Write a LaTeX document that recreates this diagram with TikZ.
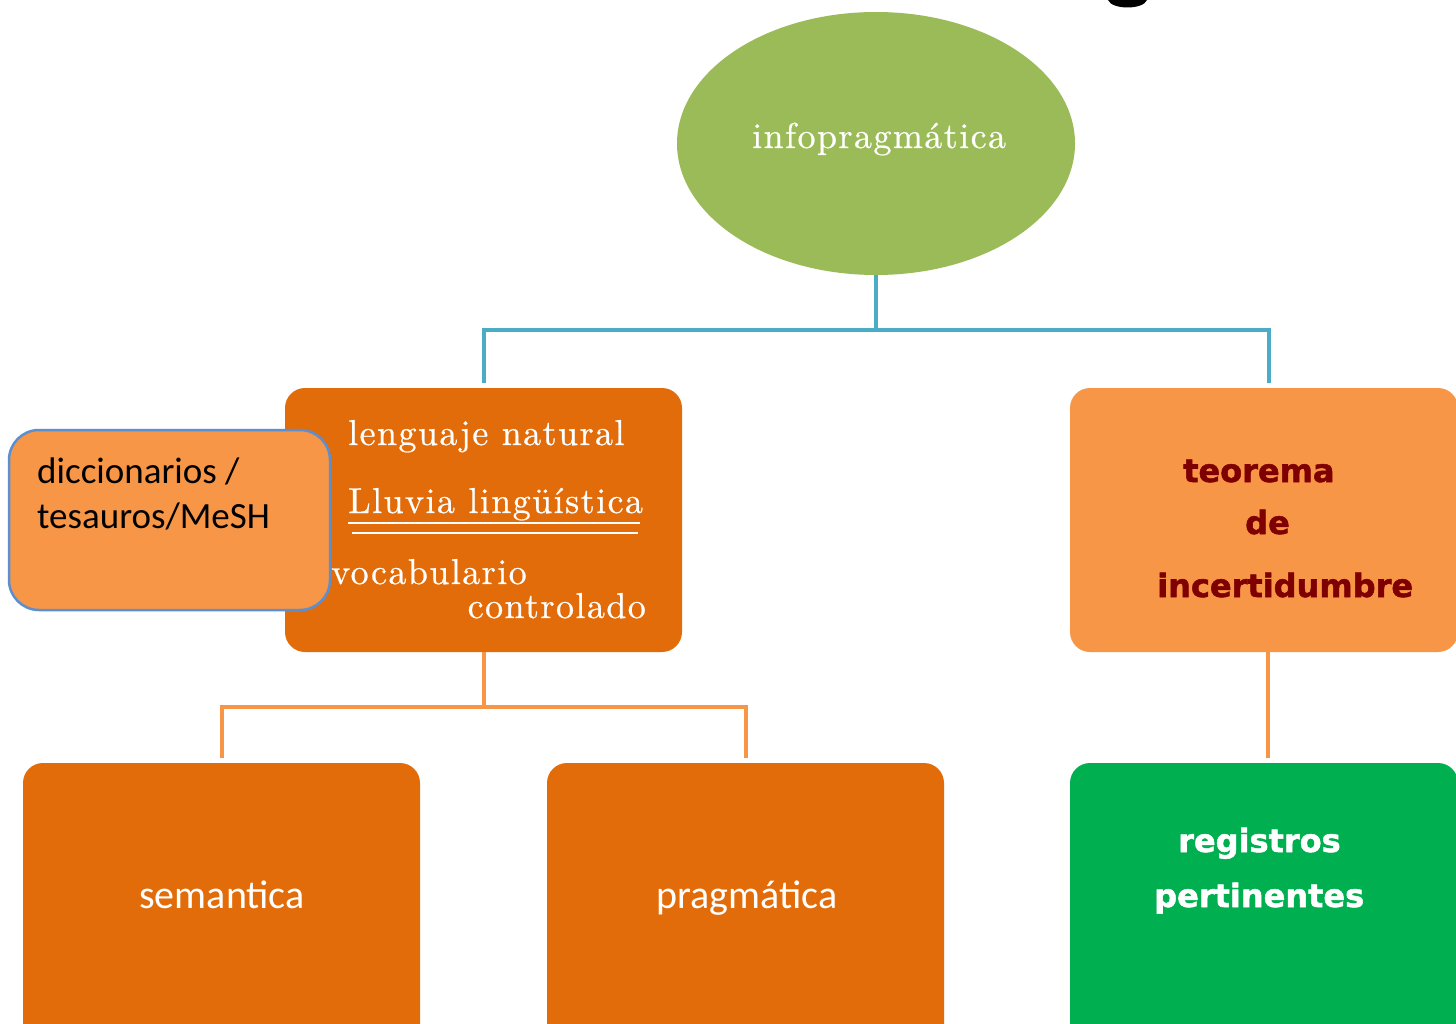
\documentclass[tikz,border=0pt]{standalone}
\usepackage{fontspec}
\usetikzlibrary{shapes.geometric}
\newfontfamily\lmserif{lmroman10-regular}[Extension=.otf, LetterSpace=4, FakeBold=0.6]
\newfontfamily\calib{Carlito}
\newfontfamily\heavy{DejaVu Sans}[BoldFeatures={FakeBold=1.6}]
\definecolor{darkor}{HTML}{E36C0A}
\definecolor{lightor}{HTML}{F79646}
\definecolor{olive}{HTML}{9BBB59}
\definecolor{cyanb}{HTML}{4BACC6}
\definecolor{greenb}{HTML}{00B050}
\definecolor{edgeb}{HTML}{5B8FD0}
\definecolor{maroon}{HTML}{7F0000}
\tikzset{
  box/.style={rectangle, rounded corners=20pt, draw=none, inner sep=0pt},
  blueline/.style={draw=cyanb, line width=4pt},
  orline/.style={draw=lightor, line width=4pt},
  sertext/.style={text=white, font=\lmserif\fontsize{36}{40}\selectfont, inner sep=0pt, anchor=base west},
  caltext/.style={font=\calib\fontsize{40}{48}\selectfont, text=white, inner sep=0pt, anchor=base},
  boldtext/.style={font=\heavy\bfseries\fontsize{32}{38}\selectfont, inner sep=0pt, anchor=base west},
}
\begin{document}
\begin{tikzpicture}[x=1pt,y=-1pt]
\useasboundingbox (0,0) rectangle (1456,1024);
\clip (0,0) rectangle (1456,1024);
\fill[white] (0,0) rectangle (1456,1024);

% fragment of a cropped title glyph
\fill[black] (1108,0) .. controls (1112,10) and (1143,10) .. (1147,0) -- cycle;

% root ellipse
\node[ellipse, fill=olive, minimum width=398pt, minimum height=263pt, inner sep=0pt] (root) at (876,143.5) {};
\node[sertext] (rootlbl) at (752,148) {infopragmática};

% second level boxes
\node[box, fill=darkor, minimum width=397pt, minimum height=264pt] (leng) at (483.5,520) {};
\node[box, fill=lightor, minimum width=388pt, minimum height=264pt] (teo) at (1264,520) {};

% third level boxes
\node[box, fill=darkor, minimum width=397pt, minimum height=300pt] (sem) at (221.5,913) {};
\node[box, fill=darkor, minimum width=397pt, minimum height=300pt] (prag) at (745.5,913) {};
\node[box, fill=greenb, minimum width=388pt, minimum height=300pt] (reg) at (1264,913) {};

% connectors
\draw[blueline] (root.south) -- ++(0,55) coordinate (rj) -| ([yshift=5pt]leng.north);
\draw[blueline] (rj) -| ([yshift=5pt]teo.north -| 1269,0);
\draw[orline] (leng.south) -- ++(0,55) coordinate (lj) -| ([yshift=5pt]sem.north);
\draw[orline] (lj) -| ([yshift=5pt]prag.north);
\draw[orline] (teo.south -| 1268,0) -- ([yshift=5pt]reg.north -| 1268,0);

% texts in lenguaje box
\node[sertext] (t1) at (348,445) {lenguaje natural};
\node[sertext] (t2) at (348,513) {Lluvia lingüística};
\draw[white, line width=1.2pt] (348,523) -- (640,523);
\draw[white, line width=1.2pt] (352,533) -- (638,533);
\node[sertext] (t3) at (331,584) {vocabulario};
\node[sertext, anchor=base east] (t4) at (646,618) {controlado};

% diccionarios box
\node[box, rounded corners=30pt, fill=lightor, draw=edgeb, line width=2.5pt, minimum width=321pt, minimum height=180pt] (dic) at (169.5,520) {};
\node[font=\calib\fontsize{37}{45}\selectfont, inner sep=0pt, anchor=base west] (d1) at (37,483) {diccionarios /};
\node[font=\calib\fontsize{37}{45}\selectfont, inner sep=0pt, anchor=base west] (d2) at (37,528) {tesauros/MeSH};

% teorema texts
\node[boldtext, text=maroon] (e1) at (1183,482) {teorema};
\node[boldtext, text=maroon] (e2) at (1245,534) {de};
\node[boldtext, text=maroon] (e3) at (1157,597) {incertidumbre};

% bottom texts
\node[caltext] (s1) at (222,908) {semantica};
\node[caltext] (p1) at (747,908) {pragmática};
\node[boldtext, text=white] (r1) at (1178,852) {registros};
\node[boldtext, text=white] (r2) at (1154,907) {pertinentes};
\end{tikzpicture}
\end{document}
